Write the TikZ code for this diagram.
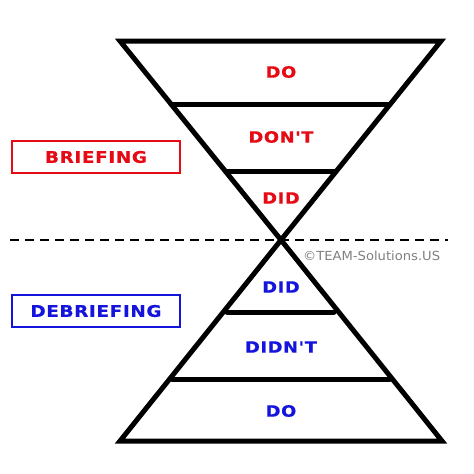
\documentclass[tikz,border=0pt]{standalone}
\usepackage{fontspec}
\newfontfamily\labfont{DejaVu Sans}[FakeStretch=1.15,LetterSpace=4,FakeBold=0.6]
\newfontfamily\copyfont{DejaVu Sans}[FakeStretch=1.05]
\definecolor{brieffred}{RGB}{230,10,20}
\definecolor{debriefblue}{RGB}{20,20,220}
\tikzset{
  funnel/.style={line width=5pt,line join=miter,line cap=round},
  tier/.style={font=\labfont\bfseries\fontsize{15.5}{15.5}\selectfont},
  phasebox/.style={draw,line width=2pt,minimum width=168pt,minimum height=32pt,inner sep=0pt,font=\labfont\bfseries\fontsize{16}{16}\selectfont}
}
\begin{document}
\begin{tikzpicture}[x=1pt,y=-1pt]
  \useasboundingbox (0,0) rectangle (474,474);
  % upper triangle (briefing)
  \coordinate (TL) at (120,41);
  \coordinate (TR) at (441,41);
  \coordinate (M) at (281,240);
  \coordinate (T1L) at (171,104);
  \coordinate (T1R) at (389,104);
  \coordinate (T2L) at (226,171);
  \coordinate (T2R) at (335,171);
  % lower triangle (debriefing)
  \coordinate (BL) at (120,441);
  \coordinate (BR) at (442,441);
  \coordinate (B1L) at (227,312);
  \coordinate (B1R) at (334,312);
  \coordinate (B2L) at (172,379);
  \coordinate (B2R) at (390,379);
  \draw[funnel] (TL) -- (TR) -- (M) -- cycle;
  \draw[funnel] (T1L) -- (T1R);
  \draw[funnel] (T2L) -- (T2R);
  \draw[funnel] (BL) -- (BR) -- (M) -- cycle;
  \draw[funnel] (B1L) -- (B1R);
  \draw[funnel] (B2L) -- (B2R);
  % divider
  \coordinate (DL) at (10,240);
  \coordinate (DR) at (448,240);
  \draw[line width=2pt,dash pattern=on 9pt off 6pt] (DL) -- (DR);
  % labels
  \node[tier,text=brieffred] (tdo) at (281,72) {DO};
  \node[tier,text=brieffred] (tdont) at (281,137) {DON'T};
  \node[tier,text=brieffred] (tdid) at (281,198) {DID};
  \node[tier,text=debriefblue] (bdid) at (281,287) {DID};
  \node[tier,text=debriefblue] (bdidnt) at (281,347) {DIDN'T};
  \node[tier,text=debriefblue] (bdo) at (281,411) {DO};
  \node[phasebox,draw=brieffred,text=brieffred] (brief) at (96,157) {BRIEFING};
  \node[phasebox,draw=debriefblue,text=debriefblue] (debrief) at (96,311) {DEBRIEFING};
  \node[text=gray,font=\copyfont\fontsize{12.5}{12.5}\selectfont,anchor=west,inner sep=0pt] (copy) at (303,256) {©TEAM-Solutions.US};
\end{tikzpicture}
\end{document}
